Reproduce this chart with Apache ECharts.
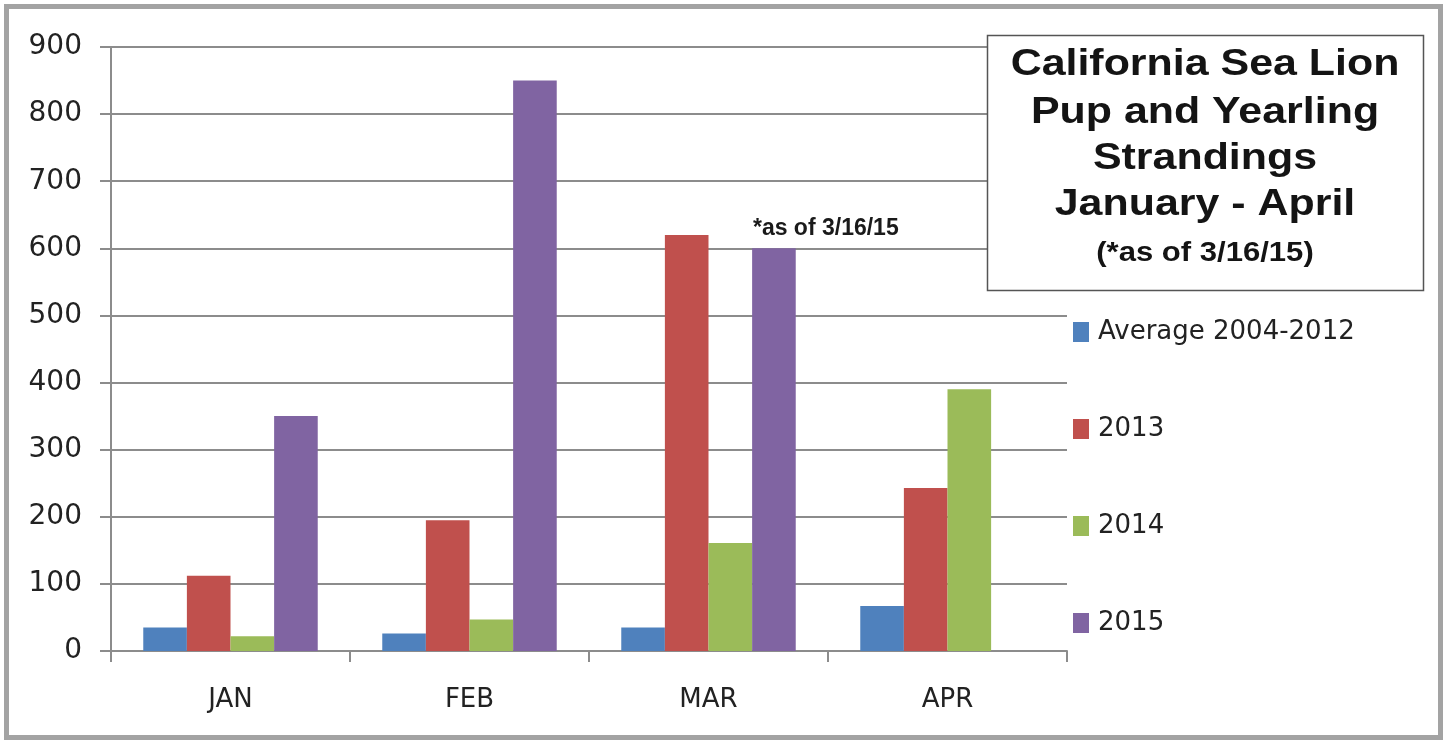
<!DOCTYPE html>
<html>
<head>
<meta charset="utf-8">
<style>
  html, body { margin: 0; padding: 0; background: #ffffff; }
  #chart { width: 1448px; height: 740px; }
</style>
<script src="https://cdn.jsdelivr.net/npm/echarts@6/dist/echarts.min.js"></script>
</head>
<body>
<div id="chart"></div>
<script>
// ---- data ----
var categories = ['JAN', 'FEB', 'MAR', 'APR'];
var seriesNames = ['Average 2004-2012', '2013', '2014', '2015'];
var avg2004_2012 = [35, 26, 35, 67];
var y2013 = [112, 195, 620, 243];
var y2014 = [22, 47, 161, 390];
var y2015 = [350, 850, 600, null];
var yTicks = { min: 0, max: 900, interval: 100 };
var titleLines = ['California Sea Lion', 'Pup and Yearling', 'Strandings', 'January - April'];
var titleNote = '(*as of 3/16/15)';
var annotationText = '*as of 3/16/15';
var annotationIndex = 2;

var colors = ['#4f81bd', '#c0504d', '#9bbb59', '#8064a2'];
var gridColor = '#8c8c8c';
var axisFont = 'DejaVu Sans';
var boldFont = '"Liberation Sans", Arial, sans-serif';

var chart = echarts.init(document.getElementById('chart'), null, { renderer: 'canvas' });

var data2015 = y2015.map(function (v, i) {
  if (i === annotationIndex) {
    return {
      value: v,
      label: {
        show: true,
        position: 'top',
        align: 'left',
        offset: [-21, -3],
        formatter: annotationText,
        fontFamily: boldFont,
        fontWeight: 'bold',
        fontSize: 23,
        color: '#1a1a1a'
      }
    };
  }
  return v;
});

function barSeries(name, data, color) {
  return {
    name: name,
    type: 'bar',
    data: data,
    barGap: '0%',
    barCategoryGap: '27%',
    itemStyle: { color: color },
    emphasis: { disabled: true },
    animation: false
  };
}

var titleY = [65, 113, 158.5, 205];
var titleGraphics = titleLines.map(function (t, i) {
  return {
    type: 'text',
    x: 1205,
    y: titleY[i],
    scaleX: 1.16,
    z: 102,
    style: {
      text: t,
      x: 0, y: 0,
      align: 'center',
      verticalAlign: 'middle',
      font: 'bold 37px ' + boldFont,
      fill: '#141414'
    }
  };
});
titleGraphics.push({
  type: 'text',
  x: 1205,
  y: 254,
  scaleX: 1.15,
  z: 102,
  style: {
    text: titleNote,
    x: 0, y: 0,
    align: 'center',
    verticalAlign: 'middle',
    font: 'bold 27px ' + boldFont,
    fill: '#141414'
  }
});

var option = {
  animation: false,
  backgroundColor: '#ffffff',
  color: colors,
  grid: { left: 111, right: 381, top: 47, bottom: 89, containLabel: false },
  legend: {
    orient: 'vertical',
    left: 1068,
    top: 314,
    itemWidth: 16,
    itemHeight: 20,
    itemGap: 71,
    icon: 'rect',
    selectedMode: false,
    data: seriesNames,
    textStyle: {
      fontFamily: axisFont,
      fontSize: 26,
      color: '#222222',
      padding: [0, 0, 0, 4]
    }
  },
  xAxis: {
    type: 'category',
    data: categories,
    axisLine: { show: true, lineStyle: { color: gridColor, width: 2 } },
    axisTick: { show: true, length: 11, interval: 0, lineStyle: { color: gridColor, width: 2 } },
    axisLabel: { margin: 36, fontFamily: axisFont, fontSize: 26, color: '#222222' },
    splitLine: { show: false }
  },
  yAxis: {
    type: 'value',
    min: yTicks.min,
    max: yTicks.max,
    interval: yTicks.interval,
    axisLine: { show: true, lineStyle: { color: gridColor, width: 2 } },
    axisTick: { show: true, length: 11, lineStyle: { color: gridColor, width: 2 } },
    axisLabel: { margin: 29, fontFamily: axisFont, fontSize: 28, color: '#222222' },
    splitLine: { show: true, lineStyle: { color: gridColor, width: 2 } }
  },
  series: [
    barSeries(seriesNames[0], avg2004_2012, colors[0]),
    barSeries(seriesNames[1], y2013, colors[1]),
    barSeries(seriesNames[2], y2014, colors[2]),
    barSeries(seriesNames[3], data2015, colors[3])
  ],
  graphic: [
    {
      type: 'rect',
      z: 100,
      silent: true,
      shape: { x: 6.5, y: 6.5, width: 1434, height: 731 },
      style: { fill: 'none', stroke: '#a3a3a3', lineWidth: 5 }
    },
    {
      type: 'rect',
      z: 101,
      silent: true,
      shape: { x: 987.5, y: 35.5, width: 436, height: 255 },
      style: { fill: '#ffffff', stroke: '#555555', lineWidth: 1.5 }
    }
  ].concat(titleGraphics)
};

chart.setOption(option);
</script>
</body>
</html>
